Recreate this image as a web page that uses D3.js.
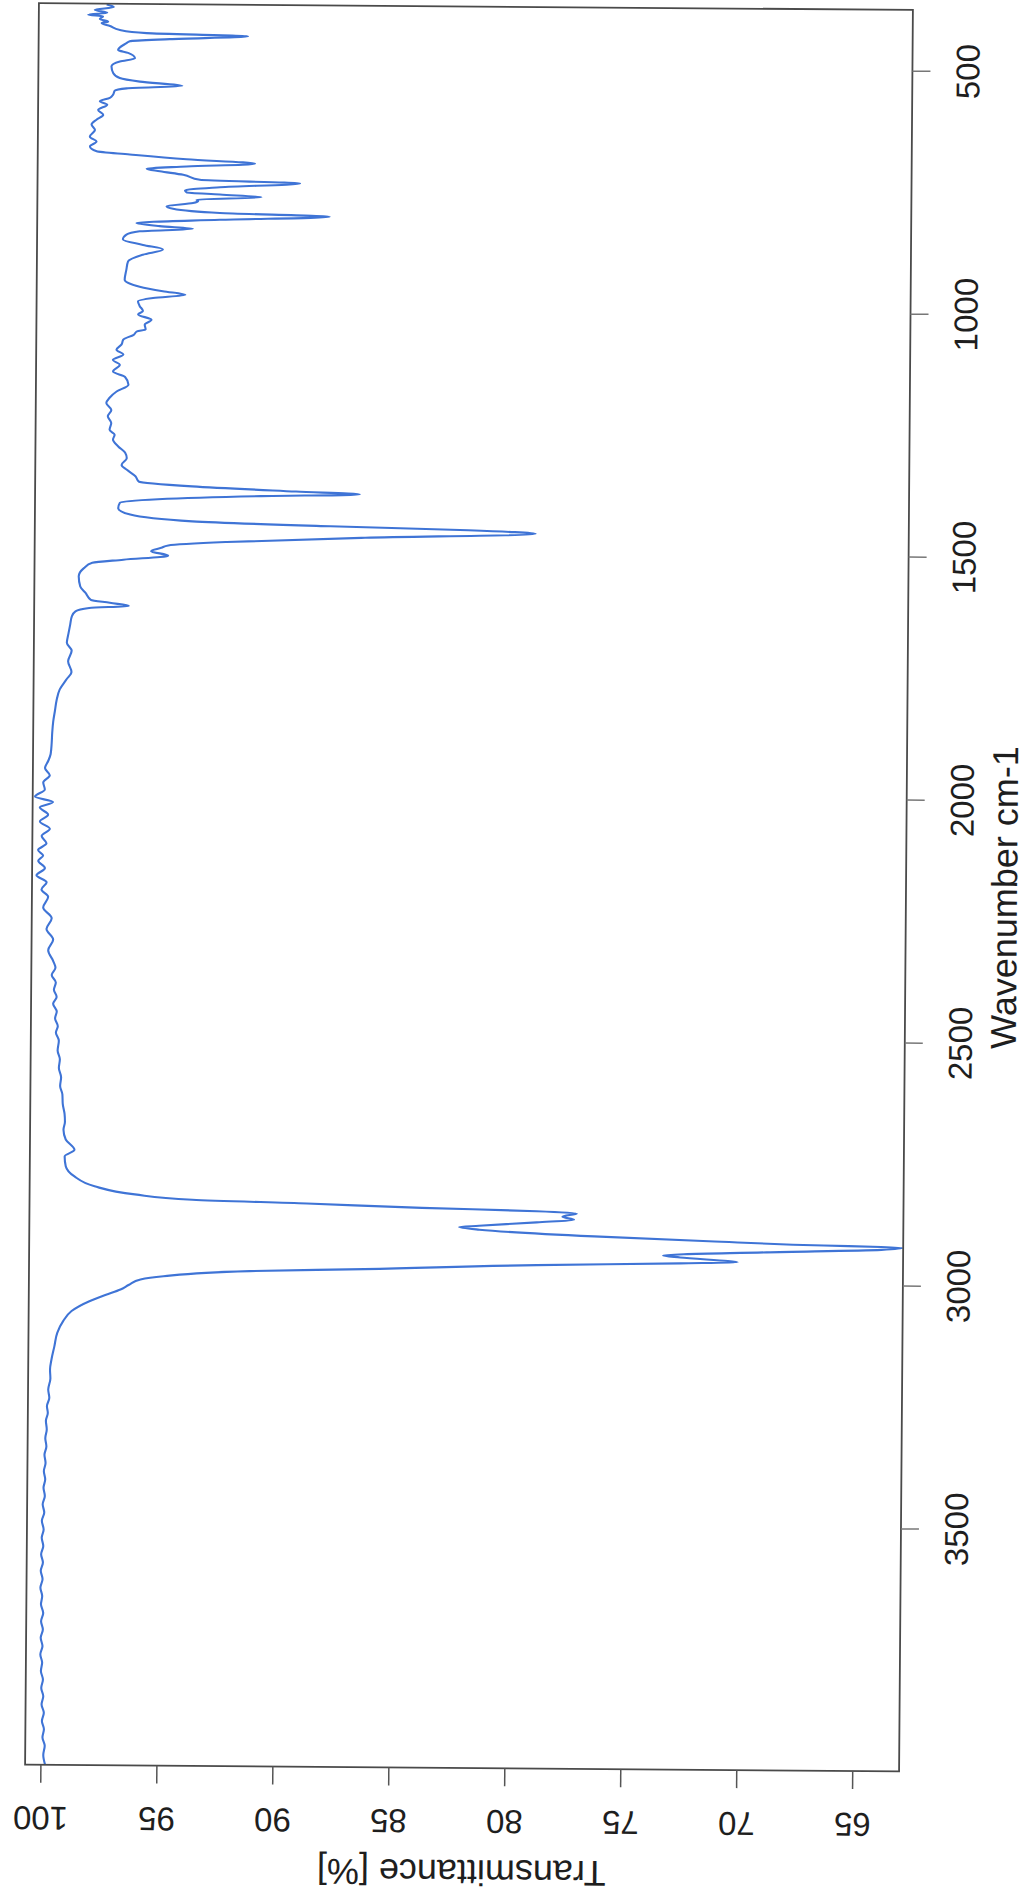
<!DOCTYPE html>
<html>
<head>
<meta charset="utf-8">
<script src="https://cdn.jsdelivr.net/npm/d3@7/dist/d3.min.js"></script>
<style>
  html, body { margin: 0; padding: 0; background: #ffffff; }
  svg { display: block; }
</style>
</head>
<body>
<script>
// ---- data (wavenumber cm-1, transmittance %) ----
const wavenumber = [
  377, 382, 388, 394, 398, 401, 407, 412, 415, 421, 429, 435, 440, 447, 452, 456, 470, 476, 487, 494,
  504, 518, 528, 535, 543, 549, 554, 562, 569, 576, 583, 594, 604, 614, 624, 635, 649, 659, 669, 679,
  685, 694, 702, 709, 714, 719, 726, 736, 742, 751, 758, 762, 766, 771, 777, 780, 784, 791, 796, 804,
  810, 818, 826, 832, 837, 843, 850, 860, 871, 880, 891, 905, 922, 943, 957, 966, 973, 980, 987, 997,
  1007, 1014, 1025, 1035, 1045, 1049, 1056, 1066, 1076, 1087, 1097, 1108, 1118, 1132, 1143, 1159, 1173, 1186, 1197, 1211,
  1224, 1238, 1252, 1262, 1272, 1286, 1299, 1310, 1324, 1334, 1347, 1358, 1367, 1376, 1381, 1386, 1394, 1402, 1413, 1426,
  1439, 1447, 1453, 1459, 1470, 1481, 1489, 1494, 1501, 1510, 1519, 1526, 1537, 1554, 1575, 1588, 1602, 1608, 1614, 1619,
  1626, 1636, 1653, 1671, 1691, 1707, 1729, 1751, 1766, 1787, 1809, 1831, 1853, 1876, 1898, 1920, 1934, 1949, 1964, 1979,
  1993, 2008, 2019, 2030, 2045, 2059, 2074, 2089, 2104, 2118, 2129, 2140, 2155, 2170, 2184, 2199, 2214, 2236, 2258, 2280,
  2302, 2324, 2346, 2360, 2375, 2390, 2405, 2420, 2434, 2450, 2464, 2480, 2493, 2510, 2530, 2548, 2566, 2585, 2603, 2620,
  2640, 2660, 2677, 2693, 2713, 2734, 2748, 2768, 2789, 2809, 2825, 2835, 2841, 2848, 2853, 2857, 2864, 2870, 2876, 2884,
  2887, 2892, 2904, 2912, 2919, 2921, 2923, 2927, 2934, 2942, 2946, 2955, 2958, 2964, 2975, 2981, 2993, 3000, 3011, 3021,
  3032, 3046, 3066, 3087, 3111, 3139, 3166, 3187, 3205, 3228, 3245, 3262, 3276, 3292, 3310, 3328, 3345, 3362, 3379, 3396,
  3413, 3430, 3447, 3464, 3481, 3498, 3516, 3533, 3550, 3567, 3584, 3601, 3618, 3636, 3653, 3670, 3688, 3705, 3722, 3739,
  3756, 3773, 3790, 3807, 3825, 3842, 3859, 3876, 3893, 3910, 3927, 3944, 3961, 3980, 4000
];
const transmittance = [
  97.74, 97.43, 98.25, 97.71, 98.53, 97.89, 98.03, 97.67, 97.95, 97.59, 97.16, 96.01, 91.63, 95.00, 96.73, 96.87, 97.23, 96.80, 96.50, 97.15,
  97.51, 97.43, 97.15, 96.28, 94.45, 96.85, 97.36, 97.43, 97.57, 98.00, 97.68, 98.07, 97.85, 98.14, 98.35, 98.20, 98.42, 98.13, 98.41, 98.12,
  96.69, 94.24, 91.29, 94.24, 95.96, 95.39, 94.38, 93.66, 89.34, 92.79, 94.30, 94.23, 92.79, 91.00, 93.80, 93.73, 93.95, 95.09, 94.81, 92.79,
  88.05, 92.79, 96.38, 95.38, 93.94, 96.24, 96.81, 96.96, 96.09, 95.23, 96.09, 96.73, 96.80, 96.87, 96.22, 95.22, 94.25, 95.64, 96.29, 96.21,
  96.07, 96.28, 95.70, 95.99, 95.95, 96.32, 96.46, 96.91, 96.98, 97.20, 96.90, 97.35, 97.05, 97.34, 96.82, 96.67, 97.18, 97.48, 97.62, 97.40,
  97.55, 97.40, 97.47, 97.25, 97.32, 97.09, 96.79, 96.72, 96.94, 96.71, 96.34, 96.19, 93.89, 89.41, 86.66, 90.91, 95.36, 97.00, 97.07, 96.55,
  93.87, 87.92, 81.97, 79.07, 86.42, 92.38, 94.90, 95.20, 95.64, 94.90, 96.83, 98.17, 98.53, 98.75, 98.68, 98.45, 98.22, 97.40, 96.58, 98.29,
  98.88, 99.03, 99.10, 99.17, 99.24, 99.03, 99.18, 99.03, 99.24, 99.53, 99.66, 99.73, 99.80, 99.84, 99.86, 99.90, 100.00, 100.14, 99.93, 100.21,
  100.14, 100.56, 99.78, 100.35, 99.99, 100.34, 99.91, 100.26, 100.05, 100.41, 100.19, 100.40, 100.11, 100.47, 100.03, 100.25, 99.96, 100.17, 99.80, 100.02,
  99.73, 99.94, 99.72, 99.62, 99.78, 99.60, 99.68, 99.56, 99.71, 99.55, 99.62, 99.50, 99.58, 99.45, 99.50, 99.40, 99.44, 99.34, 99.38, 99.28,
  99.26, 99.18, 99.16, 99.22, 99.12, 98.74, 99.16, 99.11, 98.73, 97.86, 96.12, 93.64, 88.70, 83.74, 78.79, 77.06, 77.68, 77.18, 78.79, 81.27,
  82.13, 81.26, 76.31, 71.36, 66.40, 63.93, 63.00, 63.92, 68.87, 73.33, 72.59, 70.11, 72.58, 78.77, 86.20, 91.15, 94.86, 95.85, 96.34, 96.71,
  97.33, 98.07, 98.81, 99.17, 99.42, 99.54, 99.66, 99.72, 99.70, 99.79, 99.74, 99.84, 99.80, 99.88, 99.84, 99.90, 99.85, 99.93, 99.88, 99.95,
  99.89, 99.96, 99.90, 99.99, 99.92, 100.02, 99.94, 100.02, 99.95, 100.04, 99.96, 100.05, 99.97, 100.06, 99.98, 100.03, 99.93, 100.02, 99.94, 100.03,
  99.95, 100.04, 99.96, 100.01, 99.92, 99.99, 99.90, 99.97, 99.87, 99.95, 99.86, 99.92, 99.82, 99.88, 99.80
];
const wavenumberTicks = [500, 1000, 1500, 2000, 2500, 3000, 3500];
const transmittanceTicks = [100, 95, 90, 85, 80, 75, 70, 65];
const xTitle = "Wavenumber cm-1";
const yTitle = "Transmittance [%]";

// ---- layout ----
const W = 1030, H = 1893;
const box = { left: 32, right: 906, top: 6.5, bottom: 1768 };
const FONT = "'Liberation Sans', Arial, Helvetica, sans-serif";

const svg = d3.select("body").append("svg")
  .attr("width", W).attr("height", H)
  .attr("viewBox", `0 0 ${W} ${H}`);

svg.append("rect").attr("width", W).attr("height", H).attr("fill", "#ffffff");

// the scanned page is slightly tilted
const g = svg.append("g").attr("transform", "rotate(0.45,469,887)");

// rotated chart: wavenumber runs down the page, transmittance runs across
const xT = d3.scaleLinear().domain([100.66, 62.98]).range([box.left, box.right]);
const yW = d3.scaleLinear().domain([375, 4000]).range([box.top, box.bottom]);

const data = wavenumber.map((w, i) => ({ w, t: transmittance[i] }));

g.append("clipPath").attr("id", "plotclip")
  .append("rect")
  .attr("x", box.left).attr("y", box.top)
  .attr("width", box.right - box.left).attr("height", box.bottom - box.top);

const line = d3.line()
  .x(d => xT(d.t))
  .y(d => yW(d.w))
  .curve(d3.curveMonotoneY);

g.append("path")
  .datum(data)
  .attr("clip-path", "url(#plotclip)")
  .attr("d", line)
  .attr("fill", "none")
  .attr("stroke", "#3f74d6")
  .attr("stroke-width", 2.1)
  .attr("stroke-linejoin", "round");

// frame
g.append("rect")
  .attr("x", box.left).attr("y", box.top)
  .attr("width", box.right - box.left).attr("height", box.bottom - box.top)
  .attr("fill", "none")
  .attr("stroke", "#4a4a4a")
  .attr("stroke-width", 1.8);

// wavenumber axis (right side of page)
const axW = g.append("g")
  .attr("transform", `translate(${box.right},0)`)
  .call(d3.axisRight(yW).tickValues(wavenumberTicks).tickSize(18).tickPadding(0).tickFormat(d3.format("d")));
axW.select(".domain").remove();
axW.selectAll(".tick line").attr("stroke", "#777").attr("stroke-width", 1.5);
axW.selectAll(".tick text")
  .attr("x", null).attr("dy", null)
  .attr("transform", "translate(67,0) rotate(-90)")
  .attr("text-anchor", "middle")
  .attr("fill", "#1e1e1e")
  .style("font-family", FONT)
  .style("font-size", "33px");

// transmittance axis (bottom of page, upside down)
const axT = g.append("g")
  .attr("transform", `translate(0,${box.bottom})`)
  .call(d3.axisBottom(xT).tickValues(transmittanceTicks).tickSize(18).tickPadding(0).tickFormat(d3.format("d")));
axT.select(".domain").remove();
axT.selectAll(".tick line").attr("stroke", "#555").attr("stroke-width", 1.5);
axT.selectAll(".tick text")
  .attr("y", null).attr("dy", null)
  .attr("transform", "translate(0,42) rotate(180)")
  .attr("text-anchor", "middle")
  .attr("fill", "#1e1e1e")
  .style("font-family", FONT)
  .style("font-size", "33px");

// axis titles
g.append("text")
  .attr("transform", `translate(1017,${(box.top + box.bottom) / 2 + 6}) rotate(-90)`)
  .attr("text-anchor", "middle")
  .attr("fill", "#1e1e1e")
  .style("font-family", FONT)
  .style("font-size", "36px")
  .text(xTitle);

g.append("text")
  .attr("transform", `translate(${(box.left + box.right) / 2},1860) rotate(180)`)
  .attr("text-anchor", "middle")
  .attr("fill", "#1e1e1e")
  .style("font-family", FONT)
  .style("font-size", "36px")
  .text(yTitle);
</script>
</body>
</html>
